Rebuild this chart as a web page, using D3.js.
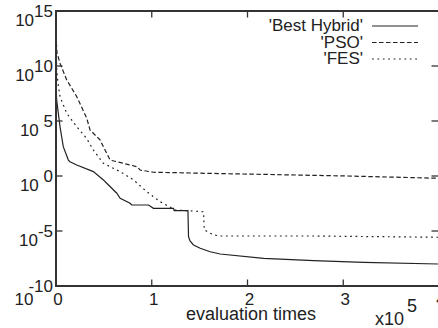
<!DOCTYPE html>
<html>
<head>
<meta charset="utf-8">
<script src="https://cdn.jsdelivr.net/npm/d3@7"></script>
<style>
  html, body { margin: 0; padding: 0; background: #fff; }
  svg { display: block; }
  text { font-family: "Liberation Sans", Arial, Helvetica, sans-serif; fill: #222; white-space: pre; }
</style>
</head>
<body>
<svg id="chart" width="438" height="328"></svg>
<script>
// ---- data (x in units of 1e5 evaluations) ----
const hybridX = [0, 0.007, 0.042, 0.076, 0.129, 0.146, 0.217, 0.39, 0.495, 0.53, 0.635, 0.67, 0.774, 0.79, 0.966, 1.018, 1.227, 1.234, 1.378, 1.384, 1.40, 1.436, 1.506, 1.61, 1.715, 2.168, 2.69, 3.214, 4.0];
const hybridY = [1e8, 8e6, 3e4, 4.6e2, 28, 20, 10, 2.5, 0.44, 0.22, 0.027, 0.0093, 0.0033, 0.0023, 0.0023, 0.00115, 0.00115, 7.1e-4, 7.1e-4, 3e-6, 1.26e-6, 5.4e-7, 2.7e-7, 1.3e-7, 8.1e-8, 3.3e-8, 2e-8, 1.4e-8, 1e-8];

const psoX = [0, 0.01, 0.042, 0.112, 0.217, 0.321, 0.356, 0.46, 0.495, 0.565, 0.635, 0.774, 0.844, 0.879, 1.018, 1.506, 2.168, 3.04, 4.0];
const psoY = [6e12, 1.6e11, 1.8e10, 5.4e8, 1.6e7, 1.8e5, 1.5e4, 1.9e3, 4.6e2, 28, 20, 10, 7.1, 3.5, 2.2, 1.8, 1.4, 1.0, 0.62];

const fesX = [0, 0.008, 0.02, 0.042, 0.112, 0.217, 0.321, 0.39, 0.495, 0.565, 0.67, 0.81, 0.949, 1.088, 1.245, 1.367, 1.541, 1.548, 1.645, 1.715, 2.69, 4.0];
const fesY = [6e11, 4e9, 3e8, 1.6e7, 5e5, 3e4, 2.5e3, 230, 14, 7.1, 2.5, 0.44, 0.037, 4.6e-3, 8.1e-4, 7.1e-4, 5.6e-4, 1.26e-5, 4.4e-6, 3.5e-6, 3.5e-6, 2.7e-6];

const seriesNames = ["'Best Hybrid'", "'PSO'", "'FES'"];
const xTicks = [0, 1, 2, 3, 4];
const xTickLabels = ["0", "1", "2", "3", "4"];
const yTicks = [1e15, 1e10, 1e5, 1e0, 1e-5, 1e-10];
const yTickExps = ["15", "10", " 5", " 0", "-5", "-10"];
const xTitle = "evaluation times";
const xScaleBase = "x10";
const xScaleExp = "5";

// ---- layout ----
const L = 56, R = 439, T = 11, B = 286;
const svg = d3.select("#chart");
const x = d3.scaleLinear().domain([0, 4]).range([L, R]);
const y = d3.scaleLog().domain([1e-10, 1e15]).range([B, T]);
const ink = "#222";

svg.append("defs").append("clipPath").attr("id", "clip")
  .append("rect").attr("x", L).attr("y", T).attr("width", R - L).attr("height", B - T);

const series = [
  { name: seriesNames[0], xs: hybridX, ys: hybridY, dash: null },
  { name: seriesNames[1], xs: psoX, ys: psoY, dash: "4.5,2.5" },
  { name: seriesNames[2], xs: fesX, ys: fesY, dash: "1.8,3.6" }
];

const line = d3.line().x(d => x(d[0])).y(d => y(d[1]));
const g = svg.append("g").attr("clip-path", "url(#clip)");
series.forEach(s => {
  g.append("path")
    .attr("d", line(s.xs.map((v, i) => [v, s.ys[i]])))
    .attr("fill", "none").attr("stroke", ink).attr("stroke-width", 1.2)
    .attr("stroke-dasharray", s.dash);
});

// ---- ticks (inward, mirrored) ----
const tk = 6.5;
const axisG = svg.append("g").attr("stroke", "#333").attr("stroke-width", 1.3);
yTicks.forEach(t => {
  axisG.append("line").attr("x1", L).attr("x2", L + tk).attr("y1", y(t)).attr("y2", y(t));
  axisG.append("line").attr("x1", R - 1 - tk).attr("x2", R - 1).attr("y1", y(t)).attr("y2", y(t));
});
xTicks.forEach(t => {
  axisG.append("line").attr("x1", x(t)).attr("x2", x(t)).attr("y1", B).attr("y2", B - tk);
  axisG.append("line").attr("x1", x(t)).attr("x2", x(t)).attr("y1", T).attr("y2", T + tk);
});

// ---- frame ----
svg.append("rect").attr("x", L).attr("y", T).attr("width", R - L).attr("height", B - T)
  .attr("fill", "none").attr("stroke", "#333").attr("stroke-width", 2);

// ---- y tick labels ----
yTicks.forEach((t, i) => {
  const last = i === yTicks.length - 1;
  const txt = svg.append("text").attr("x", 53).attr("y", y(t) + (last ? 19 : 15))
    .attr("text-anchor", "end").attr("font-size", 17);
  txt.append("tspan").text("10");
  txt.append("tspan").attr("dy", last ? -13 : -9).attr("dx", last ? -5 : 0).text(yTickExps[i]);
});

// ---- x tick labels ----
xTicks.forEach((t, i) => {
  svg.append("text").attr("x", x(t) + 2).attr("y", B + 19)
    .attr("text-anchor", "middle").attr("font-size", 17).text(xTickLabels[i]);
});

// ---- axis title & scale ----
svg.append("text").attr("x", 251).attr("y", 320).attr("text-anchor", "middle")
  .attr("font-size", 18).text(xTitle);
const sc = svg.append("text").attr("x", 375).attr("y", 325).attr("font-size", 18);
sc.append("tspan").text(xScaleBase);
sc.append("tspan").attr("dx", 3).attr("dy", -13).text(xScaleExp);

// ---- legend ----
series.forEach((s, i) => {
  const by = 31 + i * 16.5;
  svg.append("text").attr("x", 363).attr("y", by).attr("text-anchor", "end")
    .attr("font-size", 17).text(s.name);
  svg.append("line").attr("x1", 372).attr("x2", 418).attr("y1", by - 5).attr("y2", by - 5)
    .attr("stroke", ink).attr("stroke-width", 1.2).attr("stroke-dasharray", s.dash);
});
</script>
</body>
</html>
